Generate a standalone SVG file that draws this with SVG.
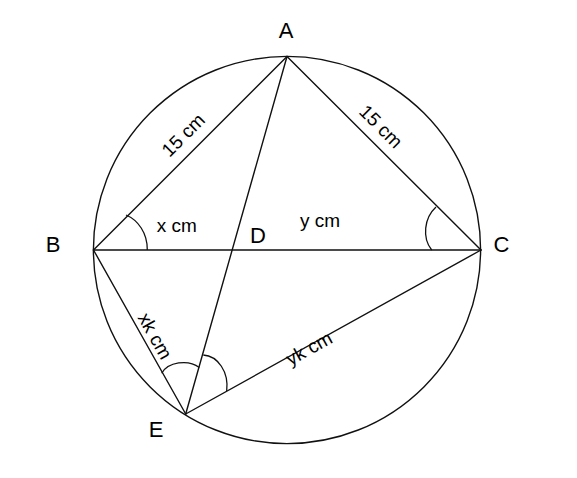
<svg xmlns="http://www.w3.org/2000/svg" width="577" height="478" viewBox="0 0 577 478">
<style>
.ln{stroke:#111;stroke-width:1.4;fill:none;stroke-linecap:round}
.arc{stroke:#111;stroke-width:1.3;fill:none}
.big{font-family:"Liberation Sans",Arial,sans-serif;font-size:22px;fill:#000}
.sm{font-family:"Liberation Sans",Arial,sans-serif;font-size:19px;fill:#000}
</style>
<rect width="577" height="478" fill="#fff"/>
<g id="circle"><circle cx="287" cy="250" r="193.6" class="ln"/></g>
<g id="connectors">
<line class="ln" x1="287" y1="56.5" x2="93.5" y2="250"/>
<line class="ln" x1="287" y1="56.5" x2="481" y2="250"/>
<line class="ln" x1="93.5" y1="250" x2="481" y2="250"/>
<line class="ln" x1="287" y1="56.5" x2="185.7" y2="414"/>
<line class="ln" x1="93.5" y1="250" x2="185.7" y2="414"/>
<line class="ln" x1="185.7" y1="414" x2="481" y2="250"/>
</g>
<g id="angles">
<path class="arc" d="M126,215 C138,220 147.5,233 147.3,250"/>
<path class="arc" d="M436,207 C424,218 422,238 431.7,250"/>
<path class="arc" d="M161.7,373.3 C168,362 188,359 199.3,367.5"/>
<path class="arc" d="M203.3,355 C218,356 229,372 226.7,391"/>
</g>
<g id="A"><text class="big" x="286" y="37.7" text-anchor="middle">A</text></g>
<g id="B"><text class="big" x="53" y="251.7" text-anchor="middle">B</text></g>
<g id="C"><text class="big" x="501.5" y="252.3" text-anchor="middle">C</text></g>
<g id="D"><text class="big" x="258" y="243.3" text-anchor="middle">D</text></g>
<g id="E"><text class="big" x="156" y="436.7" text-anchor="middle">E</text></g>
<g id="labels">
<text class="sm" x="156.7" y="231.7">x cm</text>
<text class="sm" x="300" y="226.5">y cm</text>
<text class="sm" text-anchor="middle" transform="translate(187.9,139.6) rotate(-45)">15 cm</text>
<text class="sm" text-anchor="middle" transform="translate(376.4,131.1) rotate(45)">15 cm</text>
<text class="sm" text-anchor="middle" transform="translate(149.3,339.2) rotate(60.6)">xk cm</text>
<text class="sm" text-anchor="middle" transform="translate(312.2,354) rotate(-29.1)">yk cm</text>
</g>
</svg>
